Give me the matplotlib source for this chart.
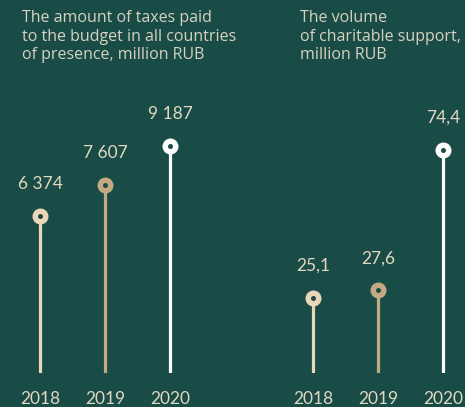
import matplotlib
matplotlib.use("Agg")
import matplotlib.pyplot as plt

# data
years = ["2018", "2019", "2020"]
taxes = [6374, 7607, 9187]
taxes_labels = ["6 374", "7 607", "9 187"]
charity = [25.1, 27.6, 74.4]
charity_labels = ["25,1", "27,6", "74,4"]

BG = "#1a4c47"
TEXT = "#e2d8c0"
TITLE = "#d6d2bf"
COLORS = ["#ead7b8", "#c4aa82", "#ffffff"]

W, H = 465, 407
fig = plt.figure(figsize=(W / 100, H / 100), dpi=100, facecolor=BG)


def px_axes(x0, x1, ytop, ybot):
    # axes rectangle given in pixel coords (origin top-left)
    return fig.add_axes([x0 / W, (H - ybot) / H, (x1 - x0) / W, (ybot - ytop) / H])


def lollipop(ax, values, labels, ymax):
    ax.set_facecolor(BG)
    ax.set_xlim(-0.5, 2.5)
    ax.set_ylim(0, ymax)
    for i, (v, lab) in enumerate(zip(values, labels)):
        ax.plot([i, i], [0, v], color=COLORS[i], lw=2.3, solid_capstyle="round", zorder=2)
        ax.plot(i, v, "o", ms=11.5, color=COLORS[i], mew=0, zorder=3)
        ax.plot(i, v, "o", ms=3.6, color=BG, mew=0, zorder=4)
        ax.annotate(lab, (i, v), xytext=(0, 32), textcoords="offset pixels",
                    ha="center", va="center", color=TEXT, fontsize=12.5, family="Lato")
    ax.set_xticks(range(len(years)))
    ax.set_xticklabels(years, color=TEXT, fontsize=12.5, family="Lato")
    ax.tick_params(axis="x", length=0, pad=13)
    ax.set_yticks([])
    for s in ax.spines.values():
        s.set_visible(False)


ax1 = px_axes(7.5, 202.5, 80, 373)
lollipop(ax1, taxes, taxes_labels, 293 / 0.0247)

ax2 = px_axes(280.5, 475.5, 80, 373)
lollipop(ax2, charity, charity_labels, 293 / 3.0)

fig.text(22 / W, 1 - 10 / H, "The amount of taxes paid\nto the budget in all countries\nof presence, million RUB",
         ha="left", va="top", color=TITLE, fontsize=11.5, family="Open Sans", linespacing=1.22)
fig.text(300 / W, 1 - 10 / H, "The volume\nof charitable support,\nmillion RUB",
         ha="left", va="top", color=TITLE, fontsize=11.5, family="Open Sans", linespacing=1.22)

fig.savefig("out.png", dpi=100, facecolor=BG)
